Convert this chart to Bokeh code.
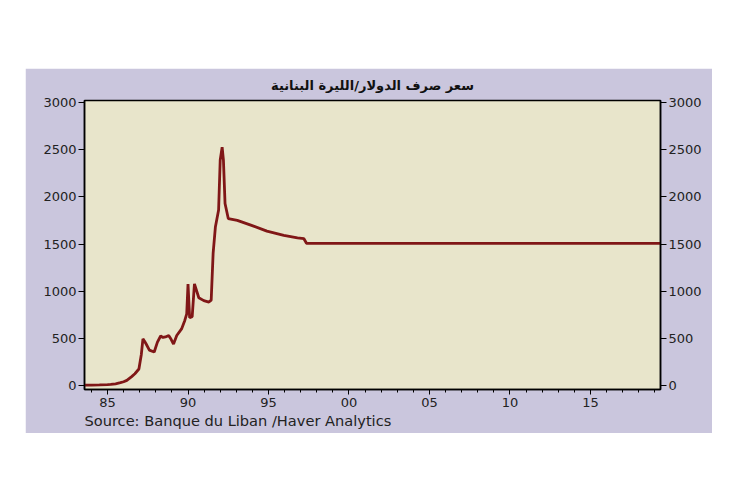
from bokeh.plotting import figure
from bokeh.models import (Range1d, LinearAxis, FixedTicker, Title, ColumnDataSource, Spacer)
from bokeh.layouts import column, row
from bokeh.embed import file_html
from bokeh.resources import INLINE

# Data (year fraction, LBP per USD)
years = [1983.57, 1984.0, 1984.5, 1985.0, 1985.2, 1985.5, 1985.8, 1986.0, 1986.2, 1986.5,
         1986.7, 1986.95, 1987.1, 1987.2, 1987.3, 1987.4, 1987.6, 1987.9, 1988.1, 1988.3,
         1988.45, 1988.6, 1988.8, 1988.95, 1989.1, 1989.3, 1989.6, 1989.8, 1989.92, 1990.0,
         1990.1, 1990.26, 1990.4, 1990.67, 1990.98, 1991.3, 1991.44, 1991.56, 1991.7, 1991.9,
         1992.0, 1992.12, 1992.2, 1992.3, 1992.5, 1993.06, 1993.9, 1994.9, 1995.95, 1996.8,
         1997.2, 1997.36, 2019.35]
rate = [4, 5, 6, 10, 12, 18, 30, 40, 55, 95,
        125, 175, 330, 495, 470, 440, 375, 355, 460, 525,
        510, 515, 530, 490, 440, 530, 600, 690, 760, 1075,
        720, 730, 1078, 930, 900, 885, 905, 1400, 1680, 1860,
        2390, 2527, 2390, 1930, 1770, 1750, 1700, 1636, 1591, 1566,
        1556, 1507.5, 1507.5]

major_years = [1985, 1990, 1995, 2000, 2005, 2010, 2015]
major_labels = ["85", "90", "95", "00", "05", "10", "15"]
minor_years = list(range(1984, 2020))
y_ticks = [0, 500, 1000, 1500, 2000, 2500, 3000]

title_text = "سعر صرف الدولار/الليرة البنانية"
source_text = "Source:  Banque du Liban /Haver Analytics"

PANEL = "#cac6dd"
FRAME_BG = "#e8e5cb"
LINE = "#801717"
FONT = "DejaVu Sans"

src = ColumnDataSource(dict(x=years, y=rate))

p = figure(width=687, height=365, output_backend="svg", toolbar_location=None,
           x_range=Range1d(1983.57, 2019.35), y_range=Range1d(-42, 3021),
           min_border_left=59, min_border_right=52, min_border_top=32, min_border_bottom=44)
p.background_fill_color = FRAME_BG
p.border_fill_color = PANEL
p.outline_line_color = "black"
p.outline_line_width = 1.5
p.grid.visible = False

p.line("x", "y", source=src, line_color=LINE, line_width=2.8)

# x axis
xa = p.xaxis[0]
xa.ticker = FixedTicker(ticks=major_years, minor_ticks=minor_years)
xa.major_label_overrides = {yr: lab for yr, lab in zip(major_years, major_labels)}
xa.axis_line_color = "black"
xa.axis_line_width = 1.5
xa.major_tick_out = 5
xa.major_tick_in = 0
xa.minor_tick_out = 3
xa.minor_tick_in = 0
xa.major_label_standoff = 3
xa.major_label_text_font = FONT
xa.major_label_text_font_size = "13px"
xa.major_label_text_color = "#222222"

# y axes
ya = p.yaxis[0]
ra = LinearAxis()
p.add_layout(ra, "right")
for ax in [ya, ra]:
    ax.ticker = FixedTicker(ticks=y_ticks, minor_ticks=[])
    ax.axis_line_color = "black"
    ax.axis_line_width = 1.5
    ax.major_tick_out = 6
    ax.major_tick_in = 0
    ax.minor_tick_out = 0
    ax.minor_tick_in = 0
    ax.major_label_standoff = 2
    ax.major_label_text_font = FONT
    ax.major_label_text_font_size = "13px"
    ax.major_label_text_color = "#222222"

p.title = Title(text=title_text, align="center", text_font="DejaVu Sans",
                text_font_size="13px", text_font_style="bold", text_color="#111111",
                standoff=15)

p.add_layout(Title(text=source_text, align="left", text_font=FONT,
                   text_font_size="14.6px", text_font_style="normal",
                   text_color="#222222", standoff=0, offset=0), "below")

layout = column(Spacer(height=68), row(Spacer(width=25), p))

with open("out.html", "w") as f:
    f.write(file_html(layout, INLINE))
